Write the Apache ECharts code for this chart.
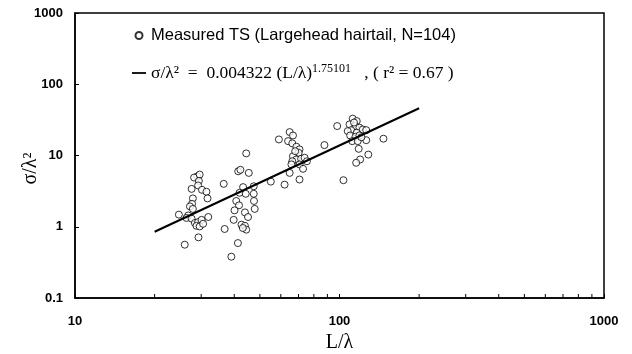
<!DOCTYPE html>
<html>
<head>
<meta charset="utf-8" />
<title>TS - L/λ</title>
<script src="https://cdn.jsdelivr.net/npm/echarts@6/dist/echarts.min.js"></script>
<style>
  html, body { margin: 0; padding: 0; background: #fff; }
  #main { width: 632px; height: 354px; }
</style>
</head>
<body>
<div id="main"></div>
<script type="text/javascript">
// measured points (L/λ , σ/λ²)
var lenRatio = [29.0, 28.2, 29.6, 29.4, 27.6, 29.2, 30.2, 31.4, 31.7, 27.9, 27.7, 27.2, 27.9, 24.7, 26.8, 26.4, 27.6, 28.4, 29.2, 30.1, 31.9, 28.8, 29.6, 29.3, 26.0, 30.5,
  44.4, 41.4, 42.2, 45.4, 36.5, 43.2, 47.4, 41.9, 44.2, 47.4, 40.7, 41.7, 40.1, 43.9, 47.8, 45.1, 39.8, 42.6, 43.9, 44.4, 43.1, 36.8, 41.3, 39.0, 47.5,
  55.0, 59.0, 64.8, 66.7, 63.9, 66.3, 68.7, 70.6, 70.1, 66.7, 68.7, 71.6, 73.8, 75.3, 66.3, 70.6, 65.8, 72.8, 64.8, 70.6, 62.0, 87.7, 68.0,
  98.0, 112.2, 116.2, 109.1, 114.9, 118.9, 110.7, 107.4, 116.2, 122.5, 126.2, 109.7, 114.9, 118.9, 111.7, 117.2, 126.2, 146.6, 118.2, 128.5, 119.7, 115.6, 103.5, 113.5, 121.0];
var sigmaRatio = [5.1, 4.9, 5.4, 4.4, 3.4, 3.8, 3.3, 3.1, 2.5, 2.5, 2.1, 1.93, 1.78, 1.48, 1.44, 1.33, 1.30, 1.13, 1.16, 1.25, 1.37, 1.03, 1.01, 0.71, 0.56, 1.10,
  10.7, 6.0, 6.3, 5.7, 4.0, 3.6, 3.7, 3.0, 2.9, 2.9, 2.3, 2.0, 1.70, 1.59, 1.78, 1.37, 1.25, 1.07, 1.03, 0.91, 0.96, 0.93, 0.59, 0.38, 2.3,
  4.3, 16.8, 21.3, 19.1, 15.9, 14.8, 13.3, 12.2, 10.9, 9.8, 8.8, 9.0, 9.3, 8.3, 8.3, 7.5, 7.5, 6.5, 5.7, 4.6, 3.9, 14.0, 11.5,
  25.9, 32.9, 30.4, 27.3, 25.9, 24.6, 22.7, 22.0, 20.9, 23.2, 22.7, 19.1, 18.3, 19.1, 15.9, 15.9, 16.4, 17.2, 12.4, 10.3, 8.8, 7.9, 4.5, 29.0, 18.0];

// regression line ends
var fitX = [20, 200];
var fitY = [0.85, 46];

var xTickLabels = ['10', '100', '1000'];
var yTickLabels = ['0.1', '1', '10', '100', '1000'];
var xMinor = [20, 30, 40, 50, 60, 70, 80, 90, 200, 300, 400, 500, 600, 700, 800, 900];

var pts = [];
for (var i = 0; i < lenRatio.length; i++) pts.push([lenRatio[i], sigmaRatio[i]]);
var fitPts = [];
for (var j = 0; j < fitX.length; j++) fitPts.push([fitX[j], fitY[j]]);

var myChart = echarts.init(document.getElementById('main'));
var labelFont = { color: '#000', fontFamily: 'Liberation Sans', fontWeight: 'bold', fontSize: 13 };

var option = {
  animation: false,
  grid: { left: 75, right: 28, top: 13, bottom: 56, outerBoundsMode: 'none', show: true, borderColor: '#000', borderWidth: 1.5 },
  legend: {
    orient: 'vertical',
    left: 127, top: 22,
    itemWidth: 14, itemHeight: 7, itemGap: 19,
    symbolKeepAspect: true,
    data: [
      { name: 'measured', icon: 'circle' },
      { name: 'fit', icon: 'path://M0,0H14V1.8H0Z' }
    ],
    formatter: function (name) {
      if (name === 'measured') return '{m|Measured TS (Largehead hairtail, N=104)}';
      return '{a|σ/λ²  =  0.004322 (L/λ)}{s|1.75101}{a|   , ( r² = 0.67 )}';
    },
    textStyle: {
      color: '#000',
      rich: {
        m: { fontFamily: 'Liberation Sans', fontSize: 16.5, lineHeight: 20, color: '#000' },
        a: { fontFamily: 'Liberation Serif', fontSize: 17.5, lineHeight: 20, color: '#000' },
        s: { fontFamily: 'Liberation Serif', fontSize: 12, lineHeight: 20, verticalAlign: 'top', color: '#000' }
      }
    }
  },
  xAxis: {
    type: 'log', logBase: 10, min: 10, max: 1000,
    name: 'L/λ', nameLocation: 'middle', nameGap: 35,
    nameTextStyle: { fontFamily: 'Liberation Serif', fontSize: 20, color: '#000' },
    axisLine: { lineStyle: { color: '#000', width: 1.5 } },
    axisTick: { inside: true, length: 4, lineStyle: { color: '#000' } },
    axisLabel: Object.assign({ margin: 17, formatter: function (v) {
      return xTickLabels[Math.round(Math.log10(v)) - 1];
    } }, labelFont),
    splitLine: { show: false }
  },
  yAxis: {
    type: 'log', logBase: 10, min: 0.1, max: 1000,
    name: 'σ/λ²', nameLocation: 'middle', nameGap: 34, nameMoveOverlap: false,
    nameTextStyle: { fontFamily: 'Liberation Serif', fontSize: 20, color: '#000', padding: [0, 26, 0, 0] },
    axisLine: { lineStyle: { color: '#000', width: 1.5 } },
    axisTick: { inside: true, length: 4, lineStyle: { color: '#000' } },
    axisLabel: Object.assign({ margin: 12, formatter: function (v) {
      return yTickLabels[Math.round(Math.log10(v)) + 1];
    } }, labelFont),
    splitLine: { show: false }
  },
  series: [
    {
      name: 'measured',
      type: 'scatter',
      data: pts,
      symbol: 'circle',
      symbolSize: 7,
      itemStyle: { color: '#fff', borderColor: '#000', borderWidth: 1 },
      z: 3
    },
    {
      name: 'fit',
      type: 'line',
      data: fitPts,
      symbol: 'none',
      lineStyle: { color: '#000', width: 2 },
      itemStyle: { color: '#000' },
      z: 4
    },
    {
      // minor ticks of the x axis
      type: 'custom',
      silent: true,
      clip: false,
      data: xMinor.map(function (v) { return [v, 0.1]; }),
      renderItem: function (params, api) {
        var p = api.coord([api.value(0), api.value(1)]);
        return {
          type: 'line',
          shape: { x1: p[0], y1: p[1], x2: p[0], y2: p[1] - 4 },
          style: { stroke: '#000', lineWidth: 1 }
        };
      },
      z: 5
    }
  ]
};

myChart.setOption(option);
</script>
</body>
</html>
